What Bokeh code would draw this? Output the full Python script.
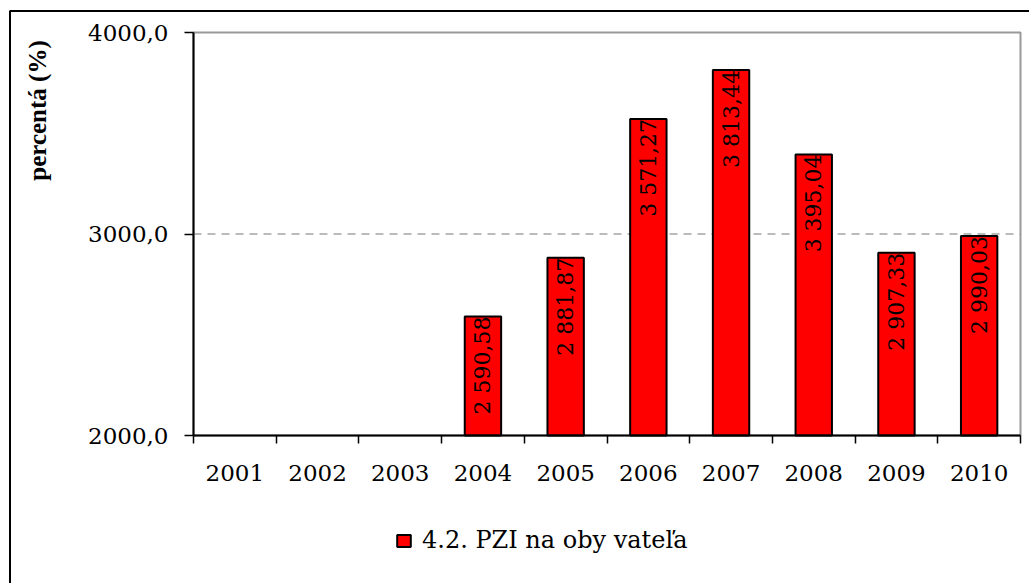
import math
from bokeh.plotting import figure
from bokeh.models import (ColumnDataSource, FixedTicker, Legend, LegendItem,
                          Label, Range1d)
from bokeh.embed import file_html
from bokeh.resources import INLINE

# ---- data ----
years = [2001, 2002, 2003, 2004, 2005, 2006, 2007, 2008, 2009, 2010]
bar_years = [2004, 2005, 2006, 2007, 2008, 2009, 2010]
bar_values = [2590.58, 2881.87, 3571.27, 3813.44, 3395.04, 2907.33, 2990.03]
y_ticks = [2000, 3000, 4000]
y_tick_labels = ["2000,0", "3000,0", "4000,0"]
series_name = "4.2. PZI na oby vateľa"
y_title = "percentá (%)"

FONT = "DejaVu Serif"

# ---- layout (pixels) ----
W, H = 1029, 583
FL, FT = 8, 9                       # outer chart border offset
PA_L, PA_R, PA_T, PA_B = 193, 1020, 32, 435   # plot area in canvas pixels

x_lo, x_hi = years[0] - 0.5, years[-1] + 0.5
y_lo, y_hi = y_ticks[0], y_ticks[-1]
ppx = (PA_R - PA_L) / (x_hi - x_lo)
ppy = (PA_B - PA_T) / (y_hi - y_lo)
x_range = Range1d(x_lo - (PA_L - FL) / ppx, x_hi + (W - PA_R) / ppx)
y_range = Range1d(y_lo - (H - PA_B) / ppy, y_hi + (PA_T - FT) / ppy)


def fmt(v):
    s = f"{v:,.2f}"
    return s.replace(",", " ").replace(".", ",")


src = ColumnDataSource(dict(x=bar_years, top=bar_values,
                            label=[fmt(v) for v in bar_values]))
inner = y_ticks[1:-1]
grid_src = ColumnDataSource(dict(x0=[x_lo] * len(inner), x1=[x_hi] * len(inner),
                                 y=inner))

p = figure(width=W, height=H, output_backend="svg", toolbar_location=None,
           x_range=x_range, y_range=y_range,
           min_border_left=FL, min_border_top=FT, min_border_right=0,
           min_border_bottom=0)
p.background_fill_color = "white"
p.border_fill_color = "white"
p.outline_line_color = None

# outer chart border (top and left edges; right/bottom lie outside the view)
p.quad(left=x_range.start + 1.5 / ppx, right=x_range.end + 20 / ppx,
       bottom=y_range.start - 20 / ppy, top=y_range.end - 1.5 / ppy,
       fill_color=None, line_color="black", line_width=2)

# dashed gridline and grey plot-area border
p.segment(x0="x0", x1="x1", y0="y", y1="y", source=grid_src,
          line_color="#777777", line_dash="8 6", line_width=1)
p.quad(left=x_lo, right=x_hi, bottom=y_lo, top=y_hi, fill_color=None,
       line_color="#999999", line_width=2)

r = p.vbar(x="x", top="top", bottom=y_lo, width=0.44, source=src,
           fill_color="#FF0000", line_color="black", line_width=2)

p.text(x="x", y="top", text="label", source=src, angle=math.pi / 2,
       text_align="right", text_baseline="middle", text_color="black",
       text_font={"value": FONT}, text_font_size="22px")

# x axis: labels at category centers, tick marks at category boundaries
xa = p.xaxis[0]
xa.fixed_location = y_lo
xa.bounds = (x_lo, x_hi)
xa.ticker = FixedTicker(ticks=years,
                        minor_ticks=[y - 0.5 for y in years] + [x_hi])
xa.major_tick_line_color = None
xa.major_tick_out = 8
xa.major_tick_in = 0
xa.minor_tick_out = 8
xa.minor_tick_in = 0
xa.minor_tick_line_color = "black"
xa.minor_tick_line_width = 1.5
xa.axis_line_color = "black"
xa.axis_line_width = 2
xa.major_label_standoff = 21
xa.major_label_text_font = FONT
xa.major_label_text_font_size = "23px"
xa.major_label_text_color = "black"

ya = p.yaxis[0]
ya.fixed_location = x_lo
ya.bounds = (y_lo, y_hi)
ya.ticker = FixedTicker(ticks=y_ticks, minor_ticks=[])
ya.major_label_overrides = dict(zip(y_ticks, y_tick_labels))
ya.major_tick_out = 9
ya.major_tick_in = 0
ya.major_tick_line_color = "black"
ya.major_tick_line_width = 1.5
ya.minor_tick_line_color = None
ya.axis_line_color = "black"
ya.axis_line_width = 2
ya.major_label_standoff = 16
ya.major_label_text_font = FONT
ya.major_label_text_font_size = "23px"
ya.major_label_text_color = "black"

p.xgrid.visible = False
p.ygrid.visible = False

p.add_layout(Label(x=37 - FL, y=H - 110, x_units="screen", y_units="screen",
                   text=y_title, angle=math.pi / 2, text_align="center",
                   text_baseline="middle", text_font="Liberation Serif",
                   text_font_style="bold", text_font_size="25px",
                   text_color="black"))

legend = Legend(items=[LegendItem(label=series_name, renderers=[r])],
                location=(395 - FL, 29), orientation="horizontal",
                border_line_color=None, background_fill_alpha=0,
                padding=0, margin=0, glyph_width=17, glyph_height=15,
                label_standoff=10, label_text_font=FONT,
                label_text_font_size="24px", label_text_color="black")
p.add_layout(legend)

open("out.html", "w").write(file_html(p, INLINE))
